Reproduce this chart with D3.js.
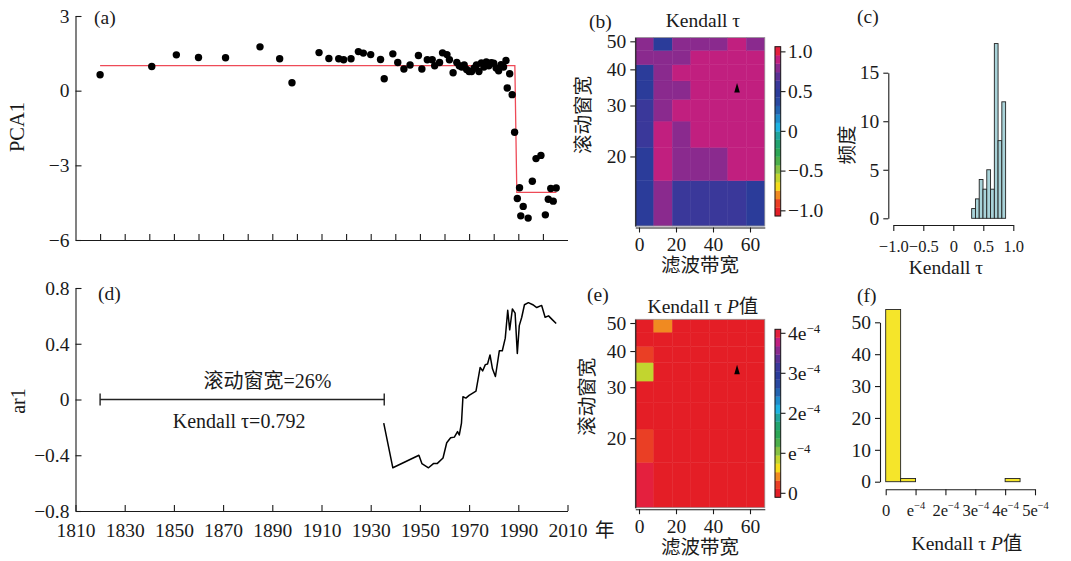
<!DOCTYPE html>
<html>
<head>
<meta charset="utf-8">
<script src="https://cdn.jsdelivr.net/npm/d3@7"></script>
<style>
  body { margin: 0; background: #fff; }
  svg { display: block; }
</style>
</head>
<body>
<div id="chart"></div>
<script>
// =========================
// DATA
// =========================
// (a) PCA1 scatter
const pcaYears = [1820, 1841, 1851, 1860, 1871, 1885, 1893, 1898, 1909, 1913, 1917, 1919, 1922, 1925, 1927, 1930,
    1934, 1935.5, 1939, 1941, 1943.5, 1946, 1949.4, 1950.8, 1953, 1955, 1956, 1958, 1959.2, 1961, 1962, 1963.5,
    1965, 1966, 1967, 1968, 1969, 1970, 1971, 1972, 1973, 1974, 1975, 1976, 1977, 1978, 1979, 1980, 1981, 1982,
    1983, 1984, 1985, 1986.5, 1985.5, 1987.5, 1988.5, 1989.6, 1990.5, 1991, 1992, 1994, 1995.7, 1997.2, 1999.2,
    2001, 2002.2, 2003.2, 2004.2, 2005.4];
const pcaValues = [0.64, 0.97, 1.44, 1.33, 1.32, 1.76, 1.28, 0.32, 1.53, 1.29, 1.28, 1.24, 1.28, 1.57, 1.51, 1.45,
    1.25, 0.48, 1.48, 1.13, 0.87, 1.03, 1.41, 0.87, 1.24, 1.24, 1.0, 1.13, 1.52, 1.45, 1.24, 0.72,
    1.13, 1.0, 0.95, 1.03, 0.85, 0.77, 0.77, 0.9, 1.03, 0.77, 1.11, 0.95, 1.15, 1.0, 1.12, 1.1, 0.91, 0.8,
    1.04, 0.95, 1.21, 0.68, 0.11, -0.16, -1.67, -4.33, -3.9, -5.03, -4.65, -5.12, -3.64, -2.73, -2.6,
    -4.99, -4.36, -3.93, -4.44, -3.91];
// (a) step fit (red)
const stepYears = [1820, 1988.6, 1989.4, 2005.5];
const stepValues = [1.01, 1.01, -4.09, -4.09];

// (d) ar1 series
const arYears = [1935.3, 1939, 1949.6, 1950.8, 1953.5, 1955.5, 1957, 1959.4, 1960.9, 1962.5, 1964, 1965.3, 1966,
    1966.9, 1967.5, 1968.7, 1970, 1972.8, 1974.5, 1975.5, 1976.6, 1977.5, 1978.5, 1979.5, 1980.7, 1982.3, 1983.5,
    1984.7, 1985.7, 1986.5, 1987.6, 1988.7, 1989.6, 1990.4, 1991.4, 1992.5, 1994.1, 1995.9, 1997.5, 1999.5,
    2000.9, 2002.3, 2003.7, 2005.4];
const arValues = [-0.17, -0.49, -0.40, -0.46, -0.49, -0.46, -0.46, -0.42, -0.31, -0.275, -0.27, -0.23, -0.255,
    -0.17, 0.02, 0.01, 0.03, 0.06, 0.23, 0.205, 0.25, 0.255, 0.32, 0.22, 0.165, 0.35, 0.35,
    0.44, 0.64, 0.50, 0.65, 0.62, 0.33, 0.53, 0.59, 0.68, 0.695, 0.68, 0.66, 0.675,
    0.59, 0.60, 0.575, 0.545];
const windowSpan = [1820, 1935.5];

// (b)/(e) sensitivity grids: rows = rolling window, cols = filter bandwidth
const windowSizes = [14, 19, 24, 29, 34, 39, 44, 49];
const bandwidths = [3, 13, 23, 33, 43, 53, 63];
const tauGrid = [
    [0.48, 0.80, 0.58, 0.58, 0.58, 0.58, 0.48],
    [0.48, 0.90, 0.80, 0.80, 0.80, 0.90, 0.90],
    [0.58, 0.90, 0.80, 0.90, 0.90, 0.90, 0.90],
    [0.58, 0.80, 0.90, 0.90, 0.90, 0.90, 0.90],
    [0.48, 0.80, 0.80, 0.90, 0.90, 0.90, 0.90],
    [0.48, 0.80, 0.90, 0.90, 0.90, 0.90, 0.90],
    [0.80, 0.80, 0.80, 0.90, 0.90, 0.90, 0.90],
    [0.80, 0.48, 0.80, 0.80, 0.80, 0.90, 0.80]
];
const pGrid = [
    [4.2e-4, 2e-6, 2e-6, 2e-6, 2e-6, 2e-6, 2e-6],
    [0.25e-4, 2e-6, 2e-6, 2e-6, 2e-6, 2e-6, 2e-6],
    [2e-6, 2e-6, 2e-6, 2e-6, 2e-6, 2e-6, 2e-6],
    [2e-6, 2e-6, 2e-6, 2e-6, 2e-6, 2e-6, 2e-6],
    [0.85e-4, 2e-6, 2e-6, 2e-6, 2e-6, 2e-6, 2e-6],
    [0.25e-4, 2e-6, 2e-6, 2e-6, 2e-6, 2e-6, 2e-6],
    [2e-6, 2e-6, 2e-6, 2e-6, 2e-6, 2e-6, 2e-6],
    [2e-6, 0.45e-4, 2e-6, 2e-6, 2e-6, 2e-6, 2e-6]
];
const chosen = { bandwidth: 53, window: 34.5 };

// (c) histogram of Kendall tau
const tauBinEdges = [0.306, 0.369, 0.432, 0.495, 0.558, 0.621, 0.684, 0.746, 0.809, 0.872];
const tauCounts = [1, 2, 4, 3, 5, 3, 18, 8, 12];
// (f) histogram of P values
const pBinEdges = [0, 0.5e-4, 1e-4, 1.5e-4, 2e-4, 2.5e-4, 3e-4, 3.5e-4, 4e-4, 4.5e-4];
const pCounts = [54, 1, 0, 0, 0, 0, 0, 0, 1];

// tick labels
const yearTicksA = [1820, 1830, 1840, 1850, 1860, 1870, 1880, 1890, 1900, 1910, 1920, 1930, 1940, 1950, 1960, 1970, 1980, 1990, 2000];
const yearTicksD = [1810, 1830, 1850, 1870, 1890, 1910, 1930, 1950, 1970, 1990, 2010];
const pcaTicks = [-6, -3, 0, 3];
const arTicks = [-0.8, -0.4, 0, 0.4, 0.8];
const windowTicks = [20, 30, 40, 50];
const bandTicks = [0, 20, 40, 60];
const tauBarTicks = [-1, -0.5, 0, 0.5, 1];
const freqTicksC = [0, 5, 10, 15];
const freqTicksF = [0, 10, 20, 30, 40, 50];
const pTicks = [0, 1e-4, 2e-4, 3e-4, 4e-4];
const pTicksF = [0, 1e-4, 2e-4, 3e-4, 4e-4, 5e-4];

// colour ramp (low -> high)
const paletteColors = ["#E41E26", "#EA3F25", "#F08A21", "#F5DC1B", "#C2D52F", "#86C143", "#4CAF4A", "#2CA655",
    "#22A36E", "#1FA49C", "#1EB3E2", "#1F8CCB", "#2363AF", "#2948A0", "#2B3C9A", "#3A389A", "#5A3094",
    "#8A2A8E", "#C11F7F", "#E4203E"];

// =========================
// SETUP
// =========================
const FONT = '"Liberation Serif","Times New Roman","Noto Sans CJK SC",serif';
const FS = 19.5;
const CJK = 19.5;
const INK = "#1a1a1a";

const svg = d3.select("#chart").append("svg")
    .attr("width", 1071).attr("height", 561)
    .attr("font-family", FONT).attr("font-size", FS);
svg.append("rect").attr("width", 1071).attr("height", 561).attr("fill", "#fff");

function styleAxis(g) {
    g.attr("font-family", FONT).attr("font-size", FS);
    g.selectAll("path, line").attr("stroke", INK).attr("stroke-width", 1.1);
    g.selectAll("text").attr("fill", INK);
}
const fmt1 = d => d === 0 ? "0" : d3.format(".1f")(d);

function addText(x, y, txt, anchor = "start", rotate = false) {
    const t = svg.append("text")
        .attr("x", x).attr("y", y)
        .attr("text-anchor", anchor)
        .attr("fill", INK)
        .text(txt);
    if (rotate) t.attr("transform", `rotate(-90,${x},${y})`);
    return t;
}

// e-4 style labels with superscript
function sciLabel(sel, v, supSize = 13) {
    const m = Math.round(v * 1e4);
    sel.text(null);
    if (m === 0) { sel.text("0"); return; }
    sel.append("tspan").text((m === 1 ? "" : m) + "e");
    sel.append("tspan").attr("dy", -7).attr("font-size", supSize).text("−4");
}

// =========================
// (a) PCA1
// =========================
const xA = d3.scaleLinear().domain([1810, 2010]).range([75.5, 567.5]);
const yA = d3.scaleLinear().domain([-6, 3]).range([240, 16]);

svg.append("g").attr("transform", `translate(0,${yA(-6)})`)
    .call(d3.axisBottom(xA).tickValues(yearTicksA).tickSize(-6).tickSizeOuter(0).tickFormat(""))
    .call(styleAxis);
svg.append("g").attr("transform", `translate(${xA(1810)},0)`)
    .call(d3.axisLeft(yA).tickValues(pcaTicks).tickSize(-6).tickSizeOuter(0).tickPadding(6).tickFormat(d3.format("d")))
    .call(styleAxis);

svg.append("path")
    .datum(stepYears.map((y, i) => [y, stepValues[i]]))
    .attr("fill", "none").attr("stroke", "#EE4A57").attr("stroke-width", 1.3)
    .attr("d", d3.line().x(d => xA(d[0])).y(d => yA(d[1])));

svg.append("g").selectAll("circle")
    .data(pcaYears.map((y, i) => [y, pcaValues[i]]))
    .join("circle")
    .attr("cx", d => xA(d[0])).attr("cy", d => yA(d[1]))
    .attr("r", 3.7).attr("fill", "#000");

addText(94, 24, "(a)");
addText(24, 127, "PCA1", "middle", true).attr("font-size", 20.5);

// =========================
// (d) ar1
// =========================
const xD = d3.scaleLinear().domain([1810, 2010]).range([75.5, 567.5]);
const yD = d3.scaleLinear().domain([-0.8, 0.8]).range([511, 288]);

svg.append("g").attr("transform", `translate(0,${yD(-0.8)})`)
    .call(d3.axisBottom(xD).tickValues(yearTicksD).tickSize(-6).tickSizeOuter(0).tickPadding(12).tickFormat(d3.format("d")))
    .call(styleAxis);
svg.append("g").attr("transform", `translate(${xD(1810)},0)`)
    .call(d3.axisLeft(yD).tickValues(arTicks).tickSize(-6).tickSizeOuter(0).tickPadding(6).tickFormat(fmt1))
    .call(styleAxis);

svg.append("path")
    .datum(arYears.map((y, i) => [y, arValues[i]]))
    .attr("fill", "none").attr("stroke", "#000").attr("stroke-width", 1.5)
    .attr("stroke-linejoin", "round")
    .attr("d", d3.line().x(d => xD(d[0])).y(d => yD(d[1])));

// rolling window bracket
const brY = yD(0);
const bracket = svg.append("g").attr("stroke", "#222").attr("stroke-width", 1.4);
bracket.append("line").attr("x1", xD(windowSpan[0])).attr("x2", xD(windowSpan[1])).attr("y1", brY).attr("y2", brY);
windowSpan.forEach(yr => bracket.append("line")
    .attr("x1", xD(yr)).attr("x2", xD(yr)).attr("y1", brY - 6).attr("y2", brY + 6));

addText(xD(1888), 388, "滚动窗宽=26%", "middle").attr("font-size", 20);
addText(xD(1876.5), 428, "Kendall τ=0.792", "middle").attr("font-size", 20);
addText(98, 300, "(d)");
addText(25, 401, "ar1", "middle", true).attr("font-size", 20);
addText(595, 537, "年").attr("font-size", CJK);

// =========================
// HEATMAP PANELS (b) and (e)
// =========================
const xH = d3.scaleLinear().domain([-2, 68]).range([635.3, 764.8]);

function heatPanel(opts) {
    const yH = d3.scaleLog().domain([11.5, 51.5]).range([opts.bottom, opts.bottom - 188.4]);
    const cells = [];
    windowSizes.forEach((w, i) => bandwidths.forEach((b, j) => cells.push({ w, b, v: opts.grid[i][j] })));

    svg.append("g").selectAll("rect")
        .data(cells)
        .join("rect")
        .attr("x", d => xH(d.b - 5))
        .attr("y", d => yH(d.w + 2.5))
        .attr("width", d => xH(d.b + 5) - xH(d.b - 5))
        .attr("height", d => yH(d.w - 2.5) - yH(d.w + 2.5))
        .attr("fill", d => opts.color(d.v))
        .attr("stroke", d => opts.color(d.v)).attr("stroke-width", 0.4);

    svg.append("rect")
        .attr("x", xH(-2)).attr("y", yH(51.5))
        .attr("width", xH(68) - xH(-2)).attr("height", yH(11.5) - yH(51.5))
        .attr("fill", "none").attr("stroke", "#9a9a9a").attr("stroke-width", 0.8);

    // chosen parameter marker
    const tx = xH(chosen.bandwidth), ty = yH(chosen.window);
    svg.append("path")
        .attr("d", `M${tx},${ty - 5}L${tx + 2.8},${ty + 4.5}L${tx - 2.8},${ty + 4.5}Z`)
        .attr("fill", "#000");

    svg.append("g").attr("transform", `translate(${xH(-2)},0)`)
        .call(d3.axisLeft(yH).tickValues(windowTicks).tickSize(5).tickSizeOuter(0).tickPadding(4).tickFormat(d3.format("d")))
        .call(styleAxis);
    svg.append("g").attr("transform", `translate(0,${opts.bottom + 1.5})`)
        .call(d3.axisBottom(xH).tickValues(bandTicks).tickSize(5).tickSizeOuter(0).tickPadding(5).tickFormat(d3.format("d")))
        .call(styleAxis);

    // colour bar
    const cb = d3.scaleLinear().domain(opts.color.domain()).range([opts.barBottom, opts.barTop]);
    const edges = [opts.color.domain()[0], ...opts.color.thresholds(), opts.color.domain()[1]];
    svg.append("g").selectAll("rect")
        .data(paletteColors)
        .join("rect")
        .attr("x", 775).attr("width", 5.7)
        .attr("y", (c, i) => cb(edges[i + 1]))
        .attr("height", (c, i) => cb(edges[i]) - cb(edges[i + 1]))
        .attr("fill", c => c).attr("stroke", c => c).attr("stroke-width", 0.3);
    svg.append("rect")
        .attr("x", 775).attr("width", 5.7)
        .attr("y", opts.barTop).attr("height", opts.barBottom - opts.barTop)
        .attr("fill", "none").attr("stroke", INK).attr("stroke-width", 1);
    const tk = svg.append("g");
    opts.barTicks.forEach(v => {
        tk.append("line").attr("x1", 780.7).attr("x2", 785.5).attr("y1", cb(v)).attr("y2", cb(v))
            .attr("stroke", INK).attr("stroke-width", 1.1);
        const t = tk.append("text").attr("x", 788).attr("y", cb(v)).attr("dy", "0.32em").attr("fill", INK);
        opts.barLabel(t, v);
    });

    addText(opts.labelX, opts.bottom - 111, "滚动窗宽", "middle", true).attr("font-size", CJK);
    addText(xH(33), opts.bottom + 46, "滤波带宽", "middle").attr("font-size", CJK);
    return yH;
}

// (b)
heatPanel({
    grid: tauGrid, bottom: 226,
    color: d3.scaleQuantize().domain([-1.065, 1.065]).range(paletteColors),
    barTop: 46.7, barBottom: 216,
    barTicks: tauBarTicks,
    barLabel: (t, v) => t.text(fmt1(v)),
    labelX: 590
});
addText(589, 28, "(b)");
addText(703, 27, "Kendall τ", "middle");

// (e)
heatPanel({
    grid: pGrid, bottom: 507.7,
    color: d3.scaleQuantize().domain([-0.1e-4, 4.1e-4]).range(paletteColors),
    barTop: 329.3, barBottom: 497.3,
    barTicks: pTicks,
    barLabel: (t, v) => sciLabel(t, v),
    labelX: 594
});
addText(587, 301, "(e)");
const eTitle = addText(703, 313, "", "middle");
eTitle.append("tspan").text("Kendall τ ");
eTitle.append("tspan").attr("font-style", "italic").text("P");
eTitle.append("tspan").text("值");

// =========================
// (c) histogram of tau
// =========================
const xC = d3.scaleLinear().domain([-1, 1]).range([893.3, 1013.3]);
const yC = d3.scaleLinear().domain([0, 15]).range([218.3, 72.7]);

svg.append("g").selectAll("rect")
    .data(tauCounts.map((c, i) => ({ c, lo: tauBinEdges[i], hi: tauBinEdges[i + 1] })))
    .join("rect")
    .attr("x", d => xC(d.lo)).attr("width", d => xC(d.hi) - xC(d.lo))
    .attr("y", d => yC(d.c)).attr("height", d => yC(0) - yC(d.c))
    .attr("fill", "#A9D3D9").attr("stroke", "#222").attr("stroke-width", 0.9);

svg.append("g").attr("transform", "translate(888.3,0)")
    .call(d3.axisLeft(yC).tickValues(freqTicksC).tickSize(5).tickSizeOuter(0).tickPadding(4).tickFormat(d3.format("d")))
    .call(styleAxis);
svg.append("g").attr("transform", "translate(0,225)")
    .call(d3.axisBottom(xC).tickValues(tauBarTicks).tickSize(6).tickSizeOuter(0).tickPadding(9).tickFormat(fmt1))
    .call(styleAxis)
    .selectAll(".tick text").attr("font-size", 16.5);

addText(857, 23, "(c)");
addText(854, 145, "频度", "middle", true).attr("font-size", CJK);
addText(946, 274, "Kendall τ", "middle");

// =========================
// (f) histogram of P values
// =========================
const xF = d3.scaleLinear().domain([0, 5e-4]).range([885.7, 1035]);
const yF = d3.scaleLinear().domain([0, 50]).range([481.7, 322.3]);

svg.append("g").selectAll("rect")
    .data(pCounts.map((c, i) => ({ c, lo: pBinEdges[i], hi: pBinEdges[i + 1] })))
    .join("rect")
    .attr("x", d => xF(d.lo)).attr("width", d => xF(d.hi) - xF(d.lo))
    .attr("y", d => yF(d.c)).attr("height", d => yF(0) - yF(d.c))
    .attr("fill", "#F5E52A").attr("stroke", "#222").attr("stroke-width", 0.9);

svg.append("g").attr("transform", "translate(880,0)")
    .call(d3.axisLeft(yF).tickValues(freqTicksF).tickSize(5).tickSizeOuter(0).tickPadding(4).tickFormat(d3.format("d")))
    .call(styleAxis);
const fAxis = svg.append("g").attr("transform", "translate(0,489.3)")
    .call(d3.axisBottom(xF).tickValues(pTicksF).tickSize(6).tickSizeOuter(0).tickPadding(9))
    .call(styleAxis);
fAxis.selectAll(".tick text")
    .attr("font-size", 16.5)
    .each(function (d) { sciLabel(d3.select(this), d, 10.5); });

addText(857, 302, "(f)");
const fLabel = addText(967, 550, "", "middle");
fLabel.append("tspan").text("Kendall τ ");
fLabel.append("tspan").attr("font-style", "italic").text("P");
fLabel.append("tspan").text("值");
</script>
</body>
</html>
